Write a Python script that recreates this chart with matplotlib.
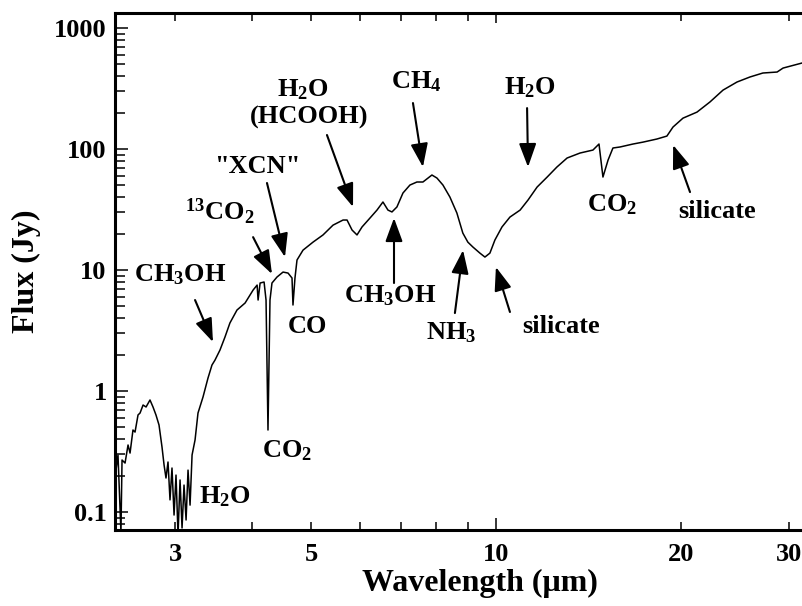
import matplotlib
matplotlib.use("Agg")
import matplotlib.pyplot as plt
from matplotlib.ticker import FixedLocator, NullFormatter

# spectrum (wavelength in micron, flux in Jy)
wavelength = [2.405, 2.423, 2.450, 2.460, 2.488, 2.516, 2.535, 2.563, 2.583, 2.612,
              2.632, 2.662, 2.692, 2.732, 2.763, 2.794, 2.826, 2.858, 2.880, 2.901,
              2.923, 2.945, 2.967, 2.990, 3.012, 3.035, 3.058, 3.081, 3.104, 3.128,
              3.151, 3.175, 3.199, 3.235, 3.271, 3.333, 3.396, 3.447, 3.486, 3.552,
              3.619, 3.687, 3.786, 3.903, 4.022, 4.083, 4.098, 4.129, 4.191, 4.222,
              4.253, 4.285, 4.317, 4.399, 4.500, 4.585, 4.654, 4.671, 4.706, 4.742,
              4.850, 5.035, 5.228, 5.428, 5.636, 5.721, 5.830, 5.939, 6.052, 6.235,
              6.401, 6.546, 6.670, 6.771, 6.898, 7.056, 7.243, 7.435, 7.605, 7.866,
              8.015, 8.198, 8.415, 8.638, 8.833, 9.001, 9.172, 9.417, 9.596, 9.777,
              9.962, 10.23, 10.54, 10.95, 11.28, 11.67, 12.12, 12.57, 13.06, 13.71,
              14.39, 14.72, 14.94, 15.23, 15.51, 15.93, 16.72, 17.35, 18.29, 18.99,
              19.43, 20.17, 21.26, 22.32, 23.44, 24.70, 25.93, 27.22, 28.71, 29.36, 31.52]
flux = [0.222, 0.296, 0.068, 0.269, 0.254, 0.358, 0.307, 0.476, 0.458, 0.634,
        0.658, 0.766, 0.738, 0.843, 0.738, 0.634, 0.524, 0.344, 0.245, 0.191,
        0.259, 0.126, 0.231, 0.0944, 0.202, 0.065, 0.184, 0.0738, 0.167, 0.0859,
        0.222, 0.114, 0.296, 0.394, 0.658, 0.892, 1.28, 1.64, 1.80, 2.18,
        2.79, 3.65, 4.67, 5.34, 6.83, 7.51, 5.65, 7.81, 7.96, 5.65,
        0.476, 5.65, 7.81, 8.75, 9.62, 9.44, 8.59, 5.14, 8.59, 12.1,
        14.6, 17.0, 19.5, 23.5, 25.9, 25.9, 21.4, 19.5, 22.7, 26.9,
        31.3, 36.5, 31.3, 30.2, 33.2, 43.3, 50.4, 53.4, 53.4, 61.0,
        57.6, 50.4, 40.1, 29.6, 20.2, 17.0, 15.5, 13.8, 12.8, 13.8,
        17.7, 22.7, 27.4, 31.3, 37.9, 48.5, 58.7, 71.0, 84.3, 92.7,
        98.1, 110, 58.7, 81.1, 102, 104, 110, 114, 121, 128,
        152, 180, 202, 245, 307, 358, 394, 425, 433, 467, 514]

xticks = [3, 5, 10, 20, 30]
xtick_labels = ["3", "5", "10", "20", "30"]
xminor = [4, 6, 7, 8, 9]
yticks = [0.1, 1, 10, 100, 1000]
ytick_labels = ["0.1", "1", "10", "100", "1000"]

plt.rcParams['font.family'] = 'Liberation Serif'
plt.rcParams['font.weight'] = 'bold'
plt.rcParams['mathtext.fontset'] = 'custom'
plt.rcParams['mathtext.rm'] = 'Liberation Serif:bold'
plt.rcParams['mathtext.it'] = 'Liberation Serif:bold'
plt.rcParams['mathtext.bf'] = 'Liberation Serif:bold'
plt.rcParams['mathtext.default'] = 'rm'

fig = plt.figure(figsize=(8.02, 6.06), dpi=100)
ax = fig.add_axes([0.1434, 0.1254, 0.8591, 0.8531])

ax.plot(wavelength, flux, color='black', lw=1.1)
ax.set_xscale('log')
ax.set_yscale('log')
ax.set_xlim(2.396, 31.76)
ax.set_ylim(0.071, 1331)

ax.set_xticks(xticks)
ax.set_xticklabels(xtick_labels)
ax.xaxis.set_minor_locator(FixedLocator(xminor))
ax.xaxis.set_minor_formatter(NullFormatter())
ax.set_yticks(yticks)
ax.set_yticklabels(ytick_labels)
ax.yaxis.set_minor_formatter(NullFormatter())

ax.tick_params(which='both', direction='in', top=True, right=False, width=1.1, labelsize=19)
ax.tick_params(axis='y', which='major', length=9.5, pad=6)
ax.tick_params(axis='y', which='minor', length=7)
ax.tick_params(axis='x', which='major', length=5.5, pad=9)
ax.tick_params(axis='x', which='minor', length=5.5)
# the decade tick at 10 is drawn longer
t10 = ax.xaxis.get_major_ticks()[2]
t10.tick1line.set_markersize(8.5)
t10.tick2line.set_markersize(7.5)
for side in ['left', 'bottom', 'top']:
    ax.spines[side].set_linewidth(2.2)
ax.spines['right'].set_visible(False)

ax.set_xlabel("Wavelength (μm)", fontsize=23, fontweight='bold')
ax.set_ylabel("Flux (Jy)", fontsize=23, fontweight='bold')
ax.xaxis.set_label_coords(0.53, -0.1025)
ax.yaxis.set_label_coords(-0.128, 0.5)
ax.xaxis.label.set_va('center')
ax.yaxis.label.set_va('center')

arrow = dict(arrowstyle='-|>,head_length=0.6,head_width=0.22', color='black',
             lw=1.5, mutation_scale=24, shrinkA=0, shrinkB=0)
ax.annotate('', xy=(3.460, 2.54), xytext=(3.235, 5.65), arrowprops=arrow)
ax.annotate('', xy=(4.317, 9.27), xytext=(4.022, 18.7), arrowprops=arrow)
ax.annotate('', xy=(4.533, 12.8), xytext=(4.237, 52.4), arrowprops=arrow)
ax.annotate('', xy=(5.851, 33.2), xytext=(5.306, 130.6), arrowprops=arrow)
ax.annotate('', xy=(7.605, 71.0), xytext=(7.326, 240), arrowprops=arrow)
ax.annotate('', xy=(11.28, 71.0), xytext=(11.24, 218), arrowprops=arrow)
ax.annotate('', xy=(6.823, 26.9), xytext=(6.823, 7.81), arrowprops=arrow)
ax.annotate('', xy=(8.840, 14.6), xytext=(8.574, 4.41), arrowprops=arrow)
ax.annotate('', xy=(10.0, 10.6), xytext=(10.54, 4.50), arrowprops=arrow)
ax.annotate('', xy=(19.44, 108), xytext=(20.71, 44.1), arrowprops=arrow)

lab = dict(ha='center', va='center', fontsize=19, fontweight='bold')
ax.text(3.058, 9.10, r'$CH_3OH$', **lab)
ax.text(3.552, 30.2, r'$^{13}CO_2$', **lab)
ax.text(4.082, 72.4, '"XCN"', **lab)
ax.text(4.850, 307, r'$H_2O$', **lab)
ax.text(4.961, 184, '(HCOOH)', **lab)
ax.text(7.409, 360, r'$CH_4$', **lab)
ax.text(11.36, 319, r'$H_2O$', **lab)
ax.text(15.46, 34.5, r'$CO_2$', **lab)
ax.text(22.91, 30.2, 'silicate', **lab)
ax.text(6.722, 6.10, r'$CH_3OH$', **lab)
ax.text(8.446, 3.02, r'$NH_3$', **lab)
ax.text(12.76, 3.44, 'silicate', **lab)
ax.text(4.924, 3.44, 'CO', **lab)
ax.text(4.568, 0.32, r'$CO_2$', **lab)
ax.text(3.619, 0.133, r'$H_2O$', **lab)

fig.savefig("out.png", dpi=100)
